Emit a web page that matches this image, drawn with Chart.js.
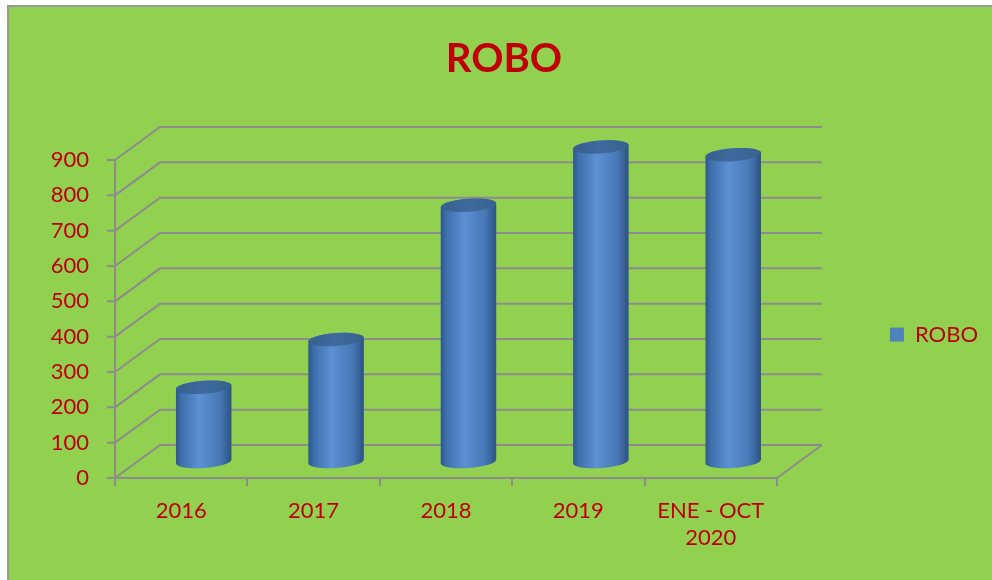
<!DOCTYPE html>
<html>
<head>
<meta charset="utf-8">
<script src="https://cdn.jsdelivr.net/npm/chart.js@4.4.0/dist/chart.umd.min.js"></script>
<style>
  html, body { margin: 0; padding: 0; background: #fff; }
  #wrap { position: relative; width: 992px; height: 580px; }
</style>
</head>
<body>
<div id="wrap"><canvas id="chart"></canvas></div>
<script>
// data
const categories = ['2016', '2017', '2018', '2019', ['ENE - OCT', '2020']];
const roboValues = [210, 345, 725, 890, 868];
const seriesName = 'ROBO';
const yMin = 0, yMax = 900, yStep = 100;

const RED = '#C00000';
const GREEN = '#92D050';
const GRID = '#8C8C8C';
const BAR = '#4F81BD';
const FONT = "Lato, 'Noto Sans', sans-serif";

// depth of the fake 3D box (back wall offset), bars sit half way in
const WALL_DX = 45, WALL_DY = -33;

const frame = {
  id: 'frame',
  beforeDraw(chart) {
    const { ctx, width, height } = chart;
    ctx.save();
    ctx.fillStyle = '#fff';
    ctx.fillRect(0, 0, width, height);
    ctx.fillStyle = GREEN;
    ctx.fillRect(8, 6, width - 8, height - 6);
    ctx.strokeStyle = '#9A9A9A';
    ctx.lineWidth = 2;
    ctx.beginPath();
    ctx.moveTo(8, height); ctx.lineTo(8, 6); ctx.lineTo(width, 6);
    ctx.stroke();
    ctx.restore();
  }
};

const wall3d = {
  id: 'wall3d',
  beforeDatasetsDraw(chart) {
    const { ctx, chartArea: a, scales: { x, y } } = chart;
    const base = y.getPixelForValue(yMin);
    ctx.save();
    ctx.strokeStyle = GRID;
    ctx.lineWidth = 2;
    ctx.beginPath();
    // back wall lines + side diagonals
    y.ticks.forEach(t => {
      const py = y.getPixelForValue(t.value);
      ctx.moveTo(a.left, py);
      ctx.lineTo(a.left + WALL_DX, py + WALL_DY);
      ctx.lineTo(a.right + WALL_DX, py + WALL_DY);
      // tick mark on the front axis
      ctx.moveTo(a.left - 8, py);
      ctx.lineTo(a.left, py);
    });
    // front axis
    ctx.moveTo(a.left, y.getPixelForValue(yMax));
    ctx.lineTo(a.left, base + 8);
    // floor front edge and right diagonal
    ctx.moveTo(a.left, base);
    ctx.lineTo(a.right, base);
    ctx.lineTo(a.right + WALL_DX, base + WALL_DY);
    // category tick marks
    const half = (x.getPixelForTick(1) - x.getPixelForTick(0)) / 2;
    for (let i = 0; i < categories.length; i++) {
      const px = Math.round(x.getPixelForTick(i) + half);
      ctx.moveTo(px, base);
      ctx.lineTo(px, base + 8);
    }
    ctx.stroke();
    ctx.restore();
  },
  beforeDatasetDraw() {
    return false; // flat bars replaced by cylinders below
  },
  afterDatasetsDraw(chart) {
    const { ctx } = chart;
    const meta = chart.getDatasetMeta(0);
    const tilt = -0.07;
    ctx.save();
    meta.data.forEach(el => {
      const cx = el.x + WALL_DX / 2;
      const top = el.y + WALL_DY / 2;
      const bottom = el.base + WALL_DY / 2;
      const rx = el.width / 2, ry = 6.5;
      const cos = Math.cos(tilt), sin = Math.sin(tilt);

      const g = ctx.createLinearGradient(cx - rx, 0, cx + rx, 0);
      g.addColorStop(0, '#2D568A');
      g.addColorStop(0.1, '#3F6FAC');
      g.addColorStop(0.42, '#5B90D2');
      g.addColorStop(0.8, '#4878B6');
      g.addColorStop(1, '#2B5182');

      ctx.beginPath();
      ctx.moveTo(cx - rx * cos, top - rx * sin);
      ctx.lineTo(cx - rx * cos, bottom - rx * sin);
      ctx.ellipse(cx, bottom, rx, ry, tilt, Math.PI, 0, true);
      ctx.lineTo(cx + rx * cos, top + rx * sin);
      ctx.ellipse(cx, top, rx, ry, tilt, 0, -Math.PI, true);
      ctx.closePath();
      ctx.fillStyle = g;
      ctx.fill();

      const gt = ctx.createLinearGradient(cx - rx, 0, cx + rx, 0);
      gt.addColorStop(0, '#35608F');
      gt.addColorStop(0.5, '#3F6A9E');
      gt.addColorStop(1, '#36618F');
      ctx.beginPath();
      ctx.ellipse(cx, top, rx, ry, tilt, 0, Math.PI * 2);
      ctx.fillStyle = gt;
      ctx.fill();
    });
    ctx.restore();
  }
};

new Chart(document.getElementById('chart'), {
  type: 'bar',
  data: {
    labels: categories,
    datasets: [{
      label: seriesName,
      data: roboValues,
      backgroundColor: BAR,
      borderWidth: 0,
      categoryPercentage: 1,
      barPercentage: 0.42
    }]
  },
  options: {
    responsive: true,
    maintainAspectRatio: false,
    animation: false,
    layout: { padding: { left: 20, right: 4, top: 0, bottom: 0 } },
    plugins: {
      title: {
        display: true,
        text: 'ROBO',
        color: RED,
        font: { family: FONT, size: 40, weight: 'bold' },
        padding: { top: 35, bottom: 77 }
      },
      legend: {
        display: true,
        position: 'right',
        fullSize: false,
        title: { display: true, text: ' ', padding: 0, font: { size: 26 } },
        labels: {
          color: RED,
          font: { family: FONT, size: 22 },
          boxWidth: 14, boxHeight: 14, padding: 10
        }
      },
      tooltip: { enabled: false }
    },
    scales: {
      x: {
        grid: { display: false, drawTicks: false },
        border: { display: false },
        ticks: { color: RED, font: { family: FONT, size: 22 }, padding: 20, maxRotation: 0 },
        afterFit(s) { s.height = 102; }
      },
      y: {
        min: yMin, max: yMax,
        grid: { display: false, drawTicks: false },
        border: { display: false },
        ticks: { stepSize: yStep, color: RED, font: { family: FONT, size: 22 }, padding: 26 },
        afterFit(s) { s.width = 95; }
      },
      gap: {
        type: 'linear',
        position: 'right',
        display: true,
        grid: { display: false, drawTicks: false },
        border: { display: false },
        ticks: { display: false },
        afterFit(s) { s.width = 103; }
      }
    }
  },
  plugins: [frame, wall3d]
});
</script>
</body>
</html>
